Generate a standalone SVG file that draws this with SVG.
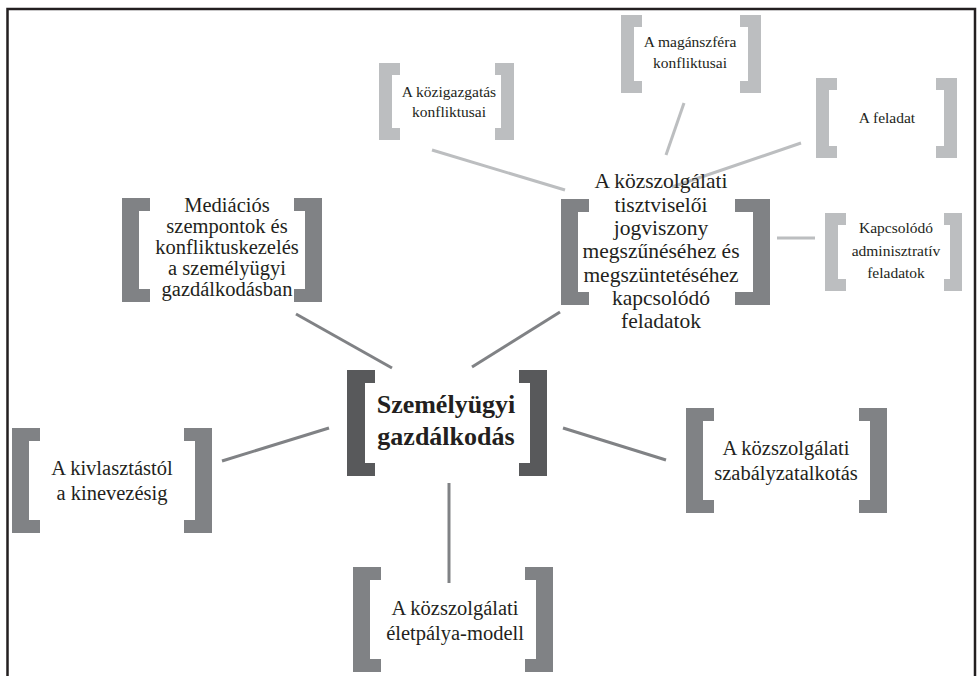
<svg xmlns="http://www.w3.org/2000/svg" width="978" height="676" viewBox="0 0 978 676" font-family="'Liberation Serif', 'Times New Roman', 'DejaVu Serif', serif">
<style>
.dark{fill:#58595b}
.mid{fill:#808285}
.light{fill:#bcbec0}
text{font-family:'Liberation Serif','Times New Roman','DejaVu Serif',serif;fill:#231f20;text-anchor:middle}
.c1{stroke:#808285;stroke-width:3;fill:none}
.c2{stroke:#bcbec0;stroke-width:3;fill:none}
</style>
<rect width="978" height="676" fill="#fff"/>
<path d="M7.5 676 V9 H975 V676" fill="none" stroke="#231f20" stroke-width="2.5"/>
<g id="connectors">
<line class="c1" x1="392" y1="368" x2="296" y2="314"/>
<line class="c1" x1="472" y1="367" x2="560" y2="312"/>
<line class="c1" x1="329" y1="428" x2="222" y2="461"/>
<line class="c1" x1="563" y1="428" x2="666" y2="460"/>
<line class="c1" x1="449" y1="483" x2="449" y2="583"/>
<line class="c2" x1="565" y1="190" x2="432" y2="150"/>
<line class="c2" x1="666" y1="155" x2="684" y2="103"/>
<line class="c2" x1="672" y1="187" x2="801" y2="143"/>
<line class="c2" x1="777" y1="238" x2="815" y2="238"/>
</g>
<g id="central">
<path class="dark" d="M347 370 H375 V383 H365 V463 H375 V476 H347 Z"/>
<path class="dark" d="M547 370 H519 V383 H530 V463 H519 V476 H547 Z"/>
<text x="446" y="413" font-size="26" font-weight="bold">Személyügyi</text>
<text x="446" y="445" font-size="26" font-weight="bold">gazdálkodás</text>
</g>
<g id="mediacio">
<path class="mid" d="M122 198 H150 V211 H139 V289 H150 V302 H122 Z"/>
<path class="mid" d="M322 198 H294 V211 H305 V289 H294 V302 H322 Z"/>
<text font-size="20.5"><tspan x="227" y="212">Mediációs</tspan><tspan x="227" y="233">szempontok és</tspan><tspan x="227" y="254">konfliktuskezelés</tspan><tspan x="227" y="275">a személyügyi</tspan><tspan x="227" y="296">gazdálkodásban</tspan></text>
</g>
<g id="jogviszony">
<path class="mid" d="M561 199 H589 V212 H578 V292 H589 V305 H561 Z"/>
<path class="mid" d="M770 199 H735 V212 H753 V292 H735 V305 H770 Z"/>
<text font-size="21.5"><tspan x="661" y="188">A közszolgálati</tspan><tspan x="661" y="211.5">tisztviselői</tspan><tspan x="661" y="235">jogviszony</tspan><tspan x="661" y="258">megszűnéséhez és</tspan><tspan x="661" y="281.5">megszüntetéséhez</tspan><tspan x="661" y="305">kapcsolódó</tspan><tspan x="661" y="328">feladatok</tspan></text>
</g>
<g id="kivalasztas">
<path class="mid" d="M12 428 H40 V441 H29 V520 H40 V533 H12 Z"/>
<path class="mid" d="M212 428 H184 V441 H195 V520 H184 V533 H212 Z"/>
<text font-size="20.5"><tspan x="112" y="475">A kivlasztástól</tspan><tspan x="112" y="500">a kinevezésig</tspan></text>
</g>
<g id="szabalyzat">
<path class="mid" d="M686 408 H714 V421 H703 V500 H714 V513 H686 Z"/>
<path class="mid" d="M887 408 H859 V421 H870 V500 H859 V513 H887 Z"/>
<text font-size="20.5"><tspan x="786" y="455">A közszolgálati</tspan><tspan x="786" y="480">szabályzatalkotás</tspan></text>
</g>
<g id="eletpalya">
<path class="mid" d="M353 567 H381 V580 H370 V659 H381 V672 H353 Z"/>
<path class="mid" d="M553 567 H525 V580 H536 V659 H525 V672 H553 Z"/>
<text font-size="20.5"><tspan x="455" y="615">A közszolgálati</tspan><tspan x="455" y="640">életpálya-modell</tspan></text>
</g>
<g id="kozigazgatas">
<path class="light" d="M379 63 H400 V75 H392 V128 H400 V140 H379 Z"/>
<path class="light" d="M514 63 H495 V75 H501 V128 H495 V140 H514 Z"/>
<text font-size="15.5"><tspan x="449" y="97">A közigazgatás</tspan><tspan x="449" y="117">konfliktusai</tspan></text>
</g>
<g id="maganszfera">
<path class="light" d="M621 15 H642 V27 H634 V81 H642 V93 H621 Z"/>
<path class="light" d="M761 15 H740 V27 H748 V81 H740 V93 H761 Z"/>
<text font-size="15.5"><tspan x="690" y="47">A magánszféra</tspan><tspan x="690" y="68">konfliktusai</tspan></text>
</g>
<g id="feladat">
<path class="light" d="M816 78 H837 V90 H829 V146 H837 V158 H816 Z"/>
<path class="light" d="M957 78 H936 V90 H944 V146 H936 V158 H957 Z"/>
<text font-size="15.5" x="887" y="123">A feladat</text>
</g>
<g id="kapcsolodo">
<path class="light" d="M825 213 H846 V225 H838 V279 H846 V291 H825 Z"/>
<path class="light" d="M962 213 H944 V225 H950 V279 H944 V291 H962 Z"/>
<text font-size="15.5"><tspan x="896" y="233">Kapcsolódó</tspan><tspan x="896" y="256">adminisztratív</tspan><tspan x="896" y="278">feladatok</tspan></text>
</g>
</svg>
